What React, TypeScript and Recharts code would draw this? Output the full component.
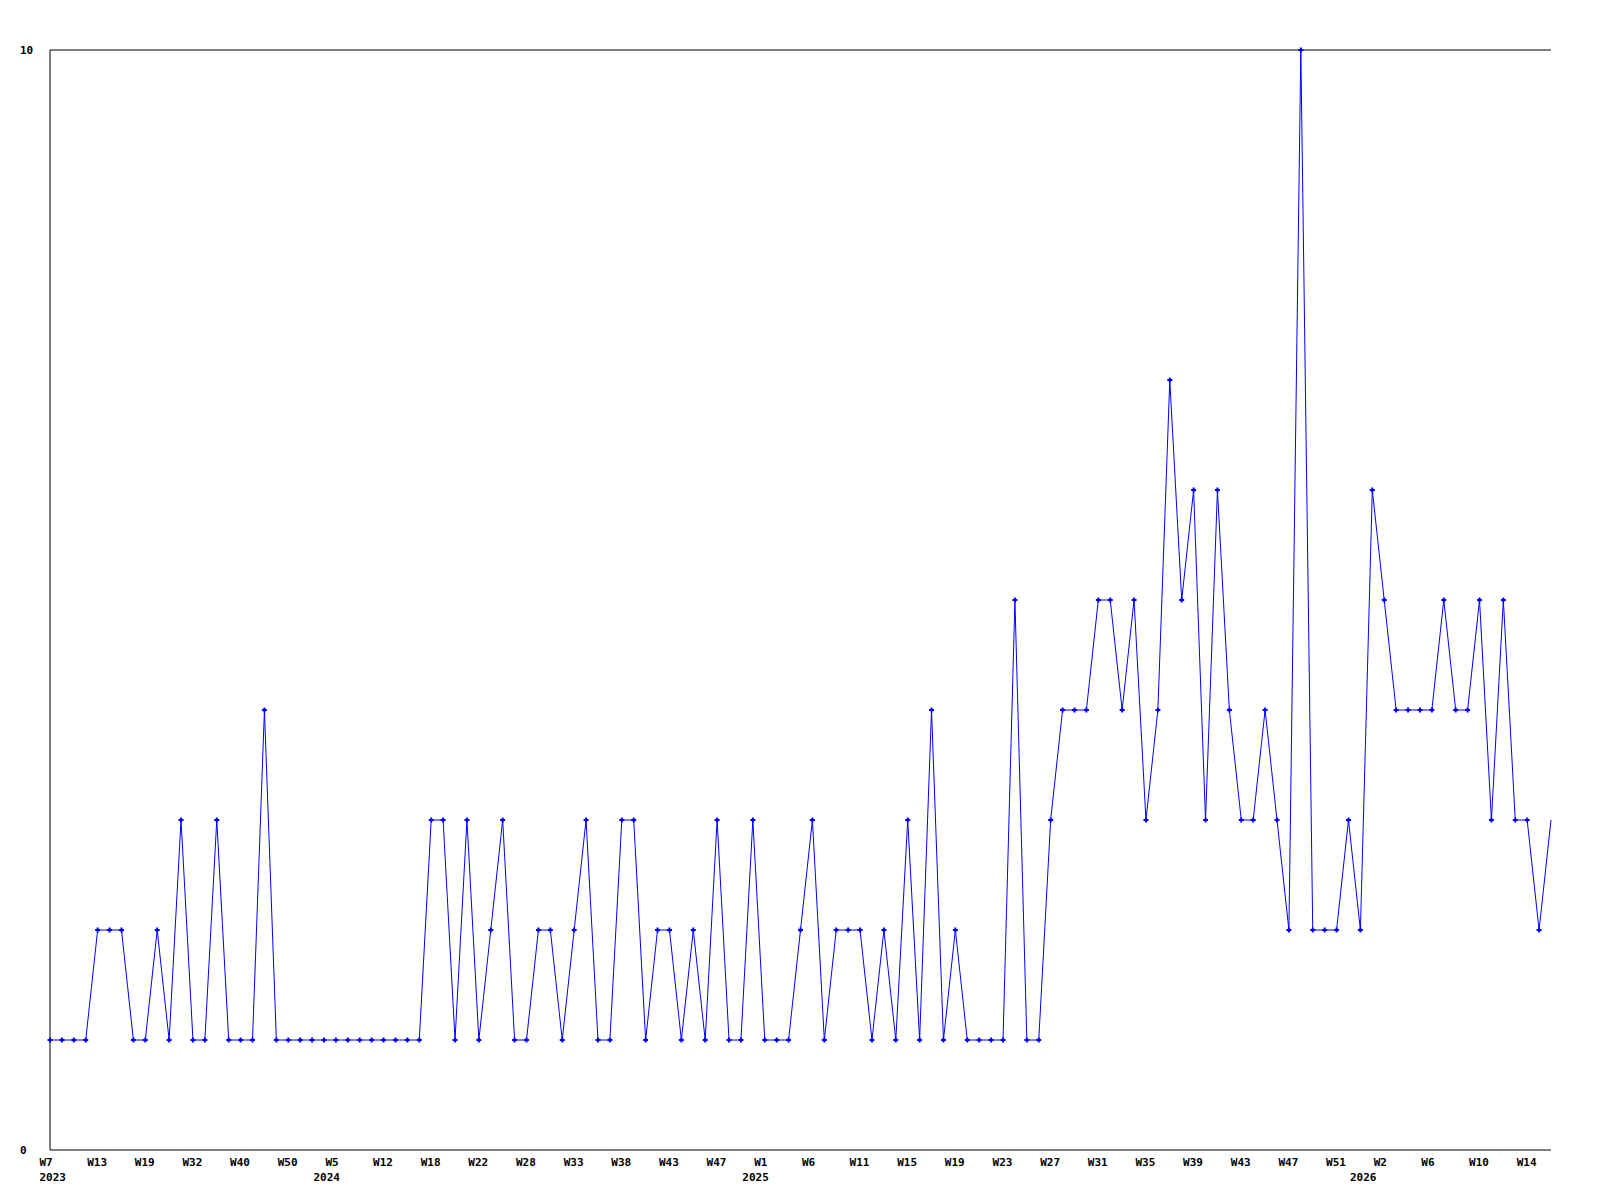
import { LineChart, Line, XAxis, YAxis, ReferenceLine } from 'recharts'

// weekly counts, one entry per week that has data ("year-Wnn")
const weeks = [
  '2023-W7', '2023-W9', '2023-W10', '2023-W12', '2023-W13', '2023-W15', '2023-W16', '2023-W18',
  '2023-W19', '2023-W22', '2023-W25', '2023-W28', '2023-W32', '2023-W34', '2023-W36', '2023-W38',
  '2023-W40', '2023-W42', '2023-W45', '2023-W48', '2023-W50', '2023-W51', '2023-W53',
  '2024-W0', '2024-W5', '2024-W7', '2024-W9', '2024-W11', '2024-W12', '2024-W14', '2024-W15',
  '2024-W17', '2024-W18', '2024-W19', '2024-W20', '2024-W21', '2024-W22', '2024-W24', '2024-W25',
  '2024-W27', '2024-W28', '2024-W29', '2024-W31', '2024-W32', '2024-W33', '2024-W34', '2024-W36',
  '2024-W37', '2024-W38', '2024-W39', '2024-W40', '2024-W42', '2024-W43', '2024-W44', '2024-W45',
  '2024-W46', '2024-W47', '2024-W49', '2024-W51',
  '2025-W0', '2025-W1', '2025-W2', '2025-W3', '2025-W5', '2025-W6', '2025-W7', '2025-W9',
  '2025-W10', '2025-W11', '2025-W12', '2025-W13', '2025-W14', '2025-W15', '2025-W16', '2025-W17',
  '2025-W18', '2025-W19', '2025-W20', '2025-W21', '2025-W22', '2025-W23', '2025-W24', '2025-W25',
  '2025-W26', '2025-W27', '2025-W28', '2025-W29', '2025-W30', '2025-W31', '2025-W32', '2025-W33',
  '2025-W34', '2025-W35', '2025-W36', '2025-W37', '2025-W38', '2025-W39', '2025-W40', '2025-W41',
  '2025-W42', '2025-W43', '2025-W44', '2025-W45', '2025-W46', '2025-W47', '2025-W48', '2025-W49',
  '2025-W50', '2025-W51', '2025-W52',
  '2026-W0', '2026-W1', '2026-W2', '2026-W3', '2026-W4', '2026-W5', '2026-W6', '2026-W7',
  '2026-W8', '2026-W9', '2026-W10', '2026-W11', '2026-W12', '2026-W13', '2026-W14', '2026-W15',
  '2026-W16',
]

const counts = [
  1, 1, 1, 1, 2, 2, 2, 1, 1, 2, 1, 3, 1, 1, 3, 1, 1, 1, 4,
  1, 1, 1, 1, 1, 1, 1, 1, 1, 1, 1, 1, 1,
  3, 3, 1, 3, 1, 2, 3, 1, 1, 2, 2, 1, 2, 3, 1, 1, 3, 3, 1, 2, 2, 1, 2, 1, 3, 1, 1, 3,
  1, 1, 1, 2, 3, 1, 2, 2, 2, 1, 2, 1, 3, 1, 4, 1, 2, 1, 1, 1, 1, 5, 1, 1, 3,
  4, 4, 4, 5, 5, 4, 5, 3, 4, 7, 5, 6, 3, 6, 4, 3, 3, 4, 3, 2, 10, 2, 2, 2, 3, 2,
  6, 5, 4, 4, 4, 4, 5, 4, 4, 5, 3, 5, 3, 3, 2, 3,
]

const yTicks = [0, 10]
const LABEL_EVERY = 4

const data = weeks.map((w, i) => ({ week: w, count: counts[i] }))

const font = '"DejaVu Sans Mono", monospace'

function WeekTick(props: any) {
  const { x, y, index } = props
  const [year, wk] = weeks[index].split('-')
  const prevYear = index > 0 ? weeks[index - 1].split('-')[0] : null
  const showWeek = index % LABEL_EVERY === 0
  const showYear = year !== prevYear
  if (!showWeek && !showYear) return null
  return (
    <g>
      {showWeek && (
        <text x={x - 10.5} y={y + 12} textAnchor="start" dominantBaseline="central"
          fontFamily={font} fontWeight="bold" fontSize={11} fill="#000">
          {wk}
        </text>
      )}
      {showYear && (
        <text x={x - 10.5} y={y + 27} textAnchor="start" dominantBaseline="central"
          fontFamily={font} fontWeight="bold" fontSize={11} fill="#000">
          {year}
        </text>
      )}
    </g>
  )
}

function CountTick(props: any) {
  const { y, payload } = props
  return (
    <text x={12} y={y} textAnchor="start" dominantBaseline="central"
      fontFamily={font} fontWeight="bold" fontSize={11} fill="#000">
      {payload.value}
    </text>
  )
}

function PlusDot(props: any) {
  const { cx, cy, index } = props
  if (index === counts.length - 1 || cx == null) return <g key={index} />
  return (
    <path key={index}
      d={`M${cx - 2.5},${cy}H${cx + 2.5}M${cx},${cy - 2.5}V${cy + 2.5}`}
      stroke="#0000ff" strokeWidth={2} fill="none" />
  )
}

export default function App() {
  return (
    <LineChart width={1584} height={1192} data={data}
      margin={{ top: 42, right: 41, bottom: 20, left: 8 }}>
      <XAxis dataKey="week" interval={0} tick={<WeekTick />} tickLine={false}
        tickSize={0} tickMargin={0} height={30} stroke="#000" />
      <YAxis domain={[0, 10]} ticks={yTicks} tick={<CountTick />} tickLine={false}
        width={34} stroke="#000" />
      <ReferenceLine y={10} stroke="#000" />
      <Line type="linear" dataKey="count" stroke="#0000ff" strokeWidth={1}
        dot={<PlusDot />} activeDot={false} isAnimationActive={false} />
    </LineChart>
  )
}
